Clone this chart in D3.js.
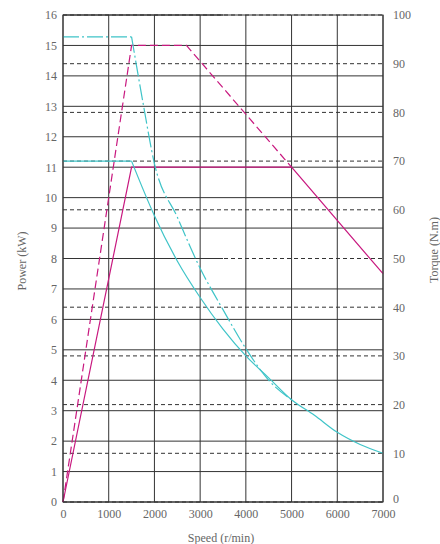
<!DOCTYPE html>
<html>
<head>
<meta charset="utf-8">
<script src="https://cdn.jsdelivr.net/npm/d3@7"></script>
<style>
  body { margin: 0; background: #fff; }
  text { font-family: "Liberation Serif", serif; fill: #666; }
</style>
</head>
<body>
<div id="chart"></div>
<script>
// tick labels
const speedTicks = [0, 1000, 2000, 3000, 4000, 5000, 6000, 7000];
const powerTicks = d3.range(0, 17, 1);
const torqueTicks = d3.range(0, 101, 10);

// power curves (kW)
const ratedPowerSpeed = [0, 1500, 5000, 7000];
const ratedPowerValue = [0, 11, 11, 7.5];
const peakPowerSpeed = [0, 1500, 2700, 5000];
const peakPowerValue = [0, 15, 15, 11];

// torque curves (N.m)
const ratedTorqueSpeed = [0, 1500, 2000, 2500, 3000, 3500, 4000, 4500, 5000, 5500, 6000, 6500, 7000];
const ratedTorqueValue = [70, 70, 58.8, 49.5, 42, 35.5, 30, 25.5, 21, 17.8, 14.3, 11.8, 10];
const peakTorqueSpeed = [0, 1500, 1750, 2000, 2500, 3000, 3500, 4000, 4500, 5000];
const peakTorqueValue = [95.5, 95.5, 82, 69.5, 58.5, 48, 39.5, 31.5, 25, 21];

const width = 440, height = 544;
const margin = {top: 15, left: 63, right: 57, bottom: 42};
const w = width - margin.left - margin.right;
const h = height - margin.top - margin.bottom;

const svg = d3.select("#chart").append("svg")
    .attr("width", width).attr("height", height);
const g = svg.append("g").attr("transform", `translate(${margin.left},${margin.top})`);

const x = d3.scaleLinear().domain([0, 7000]).range([0, w]);
const yP = d3.scaleLinear().domain([0, 16]).range([h, 0]);
const yT = d3.scaleLinear().domain([0, 100]).range([h, 0]);

const magenta = "#c8187f";
const cyan = "#3fc4c8";
const fs = 12;

// dashed torque grid
g.append("g").selectAll("line")
    .data(torqueTicks)
    .join("line")
    .attr("x1", 0).attr("x2", w)
    .attr("y1", d => yT(d)).attr("y2", d => yT(d))
    .attr("stroke", "#333").attr("stroke-width", 1)
    .attr("stroke-dasharray", "4,3");

// solid power grid (where it meets a torque line, only left half solid)
g.append("g").selectAll("line")
    .data(powerTicks)
    .join("line")
    .attr("x1", 0)
    .attr("x2", d => (d === 8 || d === 16) ? x(3500) : w)
    .attr("y1", d => yP(d)).attr("y2", d => yP(d))
    .attr("stroke", "#333").attr("stroke-width", 1);

// vertical grid
g.append("g").selectAll("line")
    .data(speedTicks)
    .join("line")
    .attr("x1", d => x(d)).attr("x2", d => x(d))
    .attr("y1", 0).attr("y2", h)
    .attr("stroke", "#333").attr("stroke-width", 1);

// axes labels
const left = d3.axisLeft(yP).tickValues(powerTicks).tickSize(0).tickPadding(6);
g.append("g").call(left).call(s => s.select(".domain").remove())
    .selectAll("text").attr("font-size", fs).style("fill", "#666");

const right = d3.axisRight(yT).tickValues(torqueTicks).tickSize(0).tickPadding(10);
g.append("g").attr("transform", `translate(${w},0)`).call(right)
    .call(s => s.select(".domain").remove())
    .selectAll("text").attr("font-size", fs).style("fill", "#666")
    .filter(d => d === 0).attr("dy", "0.05em");

const bottom = d3.axisBottom(x).tickValues(speedTicks).tickSize(0).tickPadding(7).tickFormat(d3.format("d"));
g.append("g").attr("transform", `translate(0,${h})`).call(bottom)
    .call(s => s.select(".domain").remove())
    .selectAll("text").attr("font-size", fs).style("fill", "#666");

svg.append("text").attr("x", 221).attr("y", 542).attr("text-anchor", "middle")
    .attr("font-size", fs).text("Speed (r/min)");
svg.append("text").attr("transform", "translate(26,261) rotate(-90)").attr("text-anchor", "middle")
    .attr("font-size", fs).text("Power (kW)");
svg.append("text").attr("transform", "translate(438,250) rotate(-90)").attr("text-anchor", "middle")
    .attr("font-size", fs).text("Torque (N.m)");

// power curves
const lineP = d3.line().x(d => x(d[0])).y(d => yP(d[1]));
g.append("path")
    .attr("d", lineP(d3.zip(peakPowerSpeed, peakPowerValue)))
    .attr("fill", "none").attr("stroke", magenta).attr("stroke-width", 1.2)
    .attr("stroke-dasharray", "8,4");
g.append("path")
    .attr("d", lineP(d3.zip(ratedPowerSpeed, ratedPowerValue)))
    .attr("fill", "none").attr("stroke", magenta).attr("stroke-width", 1.2);

// torque curves: flat part straight, falling part smooth
const lineFlat = d3.line().x(d => x(d[0])).y(d => yT(d[1]));
const lineFall = d3.line().x(d => x(d[0])).y(d => yT(d[1])).curve(d3.curveMonotoneX);

function torqueCurve(speeds, values, dash) {
    const pts = d3.zip(speeds, values);
    [lineFlat(pts.slice(0, 2)), lineFall(pts.slice(1))].forEach(d => {
        g.append("path").attr("d", d)
            .attr("fill", "none").attr("stroke", cyan).attr("stroke-width", 1.2)
            .attr("stroke-dasharray", dash);
    });
}
torqueCurve(peakTorqueSpeed, peakTorqueValue, "16,3,2,3");
torqueCurve(ratedTorqueSpeed, ratedTorqueValue, null);

// frame
g.append("rect").attr("width", w).attr("height", h)
    .attr("fill", "none").attr("stroke", "#333").attr("stroke-width", 1);
</script>
</body>
</html>
